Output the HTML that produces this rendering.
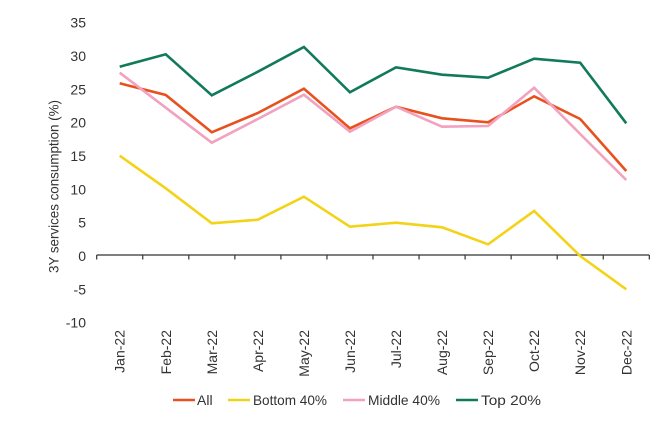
<!DOCTYPE html>
<html><head><meta charset="utf-8"><style>
html,body{margin:0;padding:0;background:#fff;}
svg{display:block;font-family:"Liberation Sans",sans-serif;}
</style></head><body>
<svg width="664" height="430" viewBox="0 0 664 430" xmlns="http://www.w3.org/2000/svg">
<rect width="664" height="430" fill="#fff"/>
<g font-size="14" fill="#333" text-anchor="end">
<text x="86" y="27.7">35</text>
<text x="86" y="61">30</text>
<text x="86" y="94.4">25</text>
<text x="86" y="127.7">20</text>
<text x="86" y="161">15</text>
<text x="86" y="194.4">10</text>
<text x="86" y="227.7">5</text>
<text x="86" y="261">0</text>
<text x="86" y="294.4">-5</text>
<text x="86" y="327.7">-10</text>
</g>
<text transform="translate(58.5,186.5) rotate(-90)" font-size="14" fill="#333" text-anchor="middle" textLength="173" lengthAdjust="spacingAndGlyphs">3Y services consumption (%)</text>
<g stroke="#333" stroke-width="1.2">
<line x1="96.7" y1="255" x2="649.3" y2="255"/>
<line x1="96.7" y1="255" x2="96.7" y2="259.5"/>
<line x1="142.75" y1="255" x2="142.75" y2="259.5"/>
<line x1="188.8" y1="255" x2="188.8" y2="259.5"/>
<line x1="234.85" y1="255" x2="234.85" y2="259.5"/>
<line x1="280.9" y1="255" x2="280.9" y2="259.5"/>
<line x1="326.95" y1="255" x2="326.95" y2="259.5"/>
<line x1="373" y1="255" x2="373" y2="259.5"/>
<line x1="419.05" y1="255" x2="419.05" y2="259.5"/>
<line x1="465.1" y1="255" x2="465.1" y2="259.5"/>
<line x1="511.15" y1="255" x2="511.15" y2="259.5"/>
<line x1="557.2" y1="255" x2="557.2" y2="259.5"/>
<line x1="603.25" y1="255" x2="603.25" y2="259.5"/>
<line x1="649.3" y1="255" x2="649.3" y2="259.5"/>
</g>
<g font-size="14" fill="#333" text-anchor="end">
<text transform="translate(124.7,330) rotate(-90)">Jan-22</text>
<text transform="translate(170.75,330) rotate(-90)">Feb-22</text>
<text transform="translate(216.8,330) rotate(-90)">Mar-22</text>
<text transform="translate(262.85,330) rotate(-90)">Apr-22</text>
<text transform="translate(308.9,330) rotate(-90)">May-22</text>
<text transform="translate(354.95,330) rotate(-90)">Jun-22</text>
<text transform="translate(401,330) rotate(-90)">Jul-22</text>
<text transform="translate(447.05,330) rotate(-90)">Aug-22</text>
<text transform="translate(493.1,330) rotate(-90)">Sep-22</text>
<text transform="translate(539.15,330) rotate(-90)">Oct-22</text>
<text transform="translate(585.2,330) rotate(-90)">Nov-22</text>
<text transform="translate(631.25,330) rotate(-90)">Dec-22</text>
</g>
<g fill="none" stroke-width="2.6" stroke-linejoin="miter" stroke-linecap="butt">
<polyline stroke="#e8501e" points="119.7,83.3 165.75,95 211.8,132.3 257.85,113 303.9,88.7 349.95,128.3 396,106.7 442.05,118.3 488.1,122.3 534.15,96.3 580.2,119 626.25,171"/>
<polyline stroke="#f3d318" points="119.7,155.7 165.75,188.3 211.8,223.3 257.85,219.7 303.9,196.7 349.95,226.7 396,222.7 442.05,227.3 488.1,244.3 534.15,211 580.2,256 626.25,289.3"/>
<polyline stroke="#f2a1be" points="119.7,72.7 165.75,107.7 211.8,142.7 257.85,119 303.9,94.7 349.95,131.7 396,106.7 442.05,126.7 488.1,126 534.15,87.7 580.2,134 626.25,180"/>
<polyline stroke="#117a5b" points="119.7,66.7 165.75,54.3 211.8,95.3 257.85,71.7 303.9,47 349.95,92.3 396,67.3 442.05,74.7 488.1,77.7 534.15,58.7 580.2,62.7 626.25,123.3"/>
</g>
<g font-size="14" fill="#333">
<line x1="173" y1="400" x2="195" y2="400" stroke="#e8501e" stroke-width="2.6"/>
<text x="197" y="405">All</text>
<line x1="228" y1="400" x2="250" y2="400" stroke="#f3d318" stroke-width="2.6"/>
<text x="253" y="405" textLength="74" lengthAdjust="spacingAndGlyphs">Bottom 40%</text>
<line x1="343" y1="400" x2="365" y2="400" stroke="#f2a1be" stroke-width="2.6"/>
<text x="368" y="405" textLength="72" lengthAdjust="spacingAndGlyphs">Middle 40%</text>
<line x1="456" y1="400" x2="478" y2="400" stroke="#117a5b" stroke-width="2.6"/>
<text x="481" y="405" textLength="60" lengthAdjust="spacingAndGlyphs">Top 20%</text>
</g>
</svg>
</body></html>
